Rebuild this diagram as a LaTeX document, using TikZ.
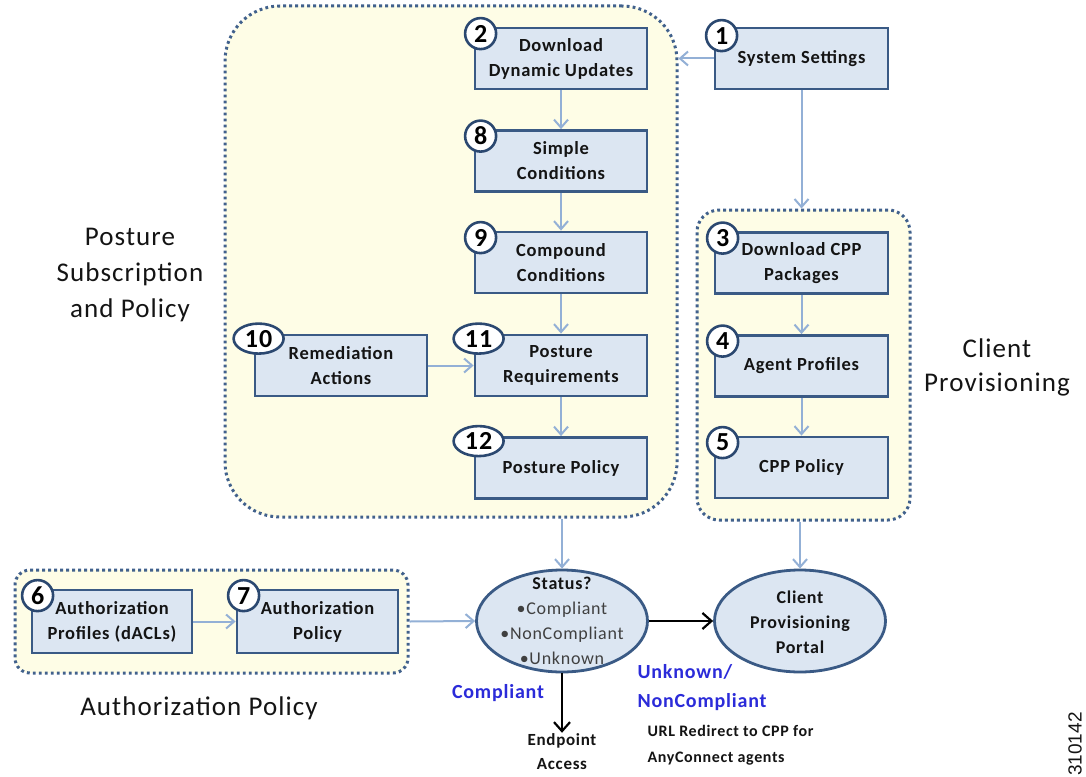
\documentclass[tikz,border=0pt]{standalone}
\usepackage{fontspec}
\setmainfont{Carlito}[LetterSpace=4]
\newfontfamily\idfont{Liberation Sans}
\usetikzlibrary{arrows.meta,shapes.geometric}
\definecolor{boxfill}{HTML}{DCE6F2}
\definecolor{boxline}{HTML}{3A5A85}
\definecolor{badgeline}{HTML}{2B4870}
\definecolor{contfill}{HTML}{FEFDE6}
\definecolor{dotline}{HTML}{41618C}
\definecolor{connc}{HTML}{93B0D6}
\definecolor{lblue}{HTML}{2B2BD9}
\definecolor{txt}{HTML}{141414}
\definecolor{gtxt}{HTML}{404040}
\begin{document}
\begin{tikzpicture}[x=1pt,y=-1pt,
 procbox/.style={draw=boxline, fill=boxfill, line width=2.8pt, minimum width=172pt, minimum height=61pt, inner sep=0pt, align=center, font=\fontsize{18.5}{25}\selectfont\bfseries, text=txt},
 badge/.style={circle, draw=badgeline, fill=white, line width=2.6pt, minimum size=31pt, inner sep=0pt, font=\fontsize{26}{26}\selectfont\bfseries, text=black},
 wbadge/.style={badge, ellipse, minimum width=50pt, minimum height=30pt},
 container/.style={draw=dotline, fill=contfill, line width=3pt, dash pattern=on 2.8pt off 3.2pt, inner sep=0pt},
 conn/.style={draw=connc, line width=2pt, -{Straight Barb[length=8pt,width=14pt]}},
 blk/.style={draw=black, line width=2.2pt, -{Straight Barb[length=9pt,width=16pt]}},
 oval/.style={ellipse, draw=boxline, fill=boxfill, line width=2.8pt, minimum width=171pt, minimum height=102pt, inner sep=0pt},
 biglbl/.style={font=\fontsize{27}{36}\selectfont, align=center, text=txt},
 ]
\fill[white] (0,0) rectangle (1086,776);
\useasboundingbox (0,0) rectangle (1086,776);

% containers
\node[container, rounded corners=55pt, minimum width=452pt, minimum height=511pt] (posture) at (451,261.5) {};
\node[container, rounded corners=22pt, minimum width=213pt, minimum height=310pt] (cp) at (803.5,365) {};
\node[container, rounded corners=15pt, minimum width=393pt, minimum height=103pt] (auth) at (211.5,621.5) {};

% boxes
\node[procbox] (b2) at (561,58.5) {Download\\Dynamic Updates};
\node[procbox] (b8) at (561,161) {Simple\\Conditions};
\node[procbox] (b9) at (561,262.5) {Compound\\Conditions};
\node[procbox] (b11) at (561,365.5) {Posture\\Requirements};
\node[procbox] (b12) at (561,468) {Posture Policy};
\node[procbox] (b10) at (341,365.5) {Remediation\\Actions};
\node[procbox, minimum width=173pt] (b1) at (801.5,58.5) {System Settings};
\node[procbox, minimum width=173pt] (b3) at (801.5,263) {Download CPP\\Packages};
\node[procbox, minimum width=173pt] (b4) at (801.5,366) {Agent Profiles};
\node[procbox, minimum width=173pt] (b5) at (801.5,467.5) {CPP Policy};
\node[procbox, minimum width=160pt, minimum height=63pt] (b6) at (112,621.5) {Authorization\\Profiles (dACLs)};
\node[procbox, minimum width=161pt, minimum height=63pt] (b7) at (317.5,621.5) {Authorization\\Policy};

% ovals
\node[oval] (status) at (562,621) {};
\node[align=center, font=\fontsize{18}{25}\selectfont, text=gtxt] (statustxt) at (562,621) {\textbf{\color{txt}Status?}\\•Compliant\\•NonCompliant\\•Unknown};
\node[oval] (portal) at (800,621) {};
\node[align=center, font=\fontsize{18}{25}\selectfont\bfseries, text=txt] (portaltxt) at (800,622) {Client\\Provisioning\\Portal};

% badges
\node[badge] (n2) at ([shift={(7,7)}]b2.north west) {2};
\node[badge] (n8) at ([shift={(7,7)}]b8.north west) {8};
\node[badge] (n9) at ([shift={(7,7)}]b9.north west) {9};
\node[wbadge] (n10) at ([shift={(5,5)}]b10.north west) {10};
\node[wbadge] (n11) at ([shift={(5,5)}]b11.north west) {11};
\node[wbadge] (n12) at ([shift={(5,5)}]b12.north west) {12};
\node[badge] (n1) at ([shift={(8,9)}]b1.north west) {1};
\node[badge] (n3) at ([shift={(9,7)}]b3.north west) {3};
\node[badge] (n4) at ([shift={(9,7)}]b4.north west) {4};
\node[badge] (n5) at ([shift={(9,7)}]b5.north west) {5};
\node[badge] (n6) at ([shift={(7,7)}]b6.north west) {6};
\node[badge] (n7) at ([shift={(8,7)}]b7.north west) {7};

% connectors
\draw[conn] (b1.west) -- (b1.west -| posture.east);
\draw[conn] (b1.south) -- (b1.south |- cp.north);
\draw[conn] (b2) -- (b8);
\draw[conn] (b8) -- (b9);
\draw[conn] (b9) -- (b11);
\draw[conn] (b11) -- (b12);
\draw[conn] (b10) -- (b11);
\draw[conn] (b3) -- (b4);
\draw[conn] (b4) -- (b5);
\draw[conn] (b6) -- (b7);
\draw[conn] (status.north |- posture.south) -- (status.north);
\draw[conn] (portal.north |- cp.south) -- (portal.north);
\draw[conn] (auth.east) -- (status.west);
\draw[blk] (status.east) -- (portal.west);

% labels
\node[align=center, inner sep=1pt, font=\fontsize{17}{24}\selectfont\bfseries, text=txt] (endp) at (562,752) {Endpoint\\Access};
\draw[blk] (status.south) -- (endp.north);
\node[font=\fontsize{20}{29}\selectfont\bfseries, text=lblue] (cmpl) at (498,693) {Compliant};
\node[font=\fontsize{20}{29}\selectfont\bfseries, text=lblue, anchor=west, align=left] (unk) at (634,688) {Unknown/\\NonCompliant};
\node[font=\fontsize{16}{26}\selectfont\bfseries, text=txt, anchor=west, align=left] (url) at (644,745) {URL Redirect to CPP for\\AnyConnect agents};
\node[biglbl] (lblpost) at (130,275) {Posture\\Subscription\\and Policy};
\node[biglbl, font=\fontsize{27}{34}\selectfont] (lblcp) at (997,367) {Client\\Provisioning};
\node[biglbl] (lblauth) at (199,708) {Authorization Policy};
\node[rotate=90, font=\idfont\fontsize{19}{19}\selectfont, text=txt] (id) at (1075,744) {310142};
\end{tikzpicture}
\end{document}
